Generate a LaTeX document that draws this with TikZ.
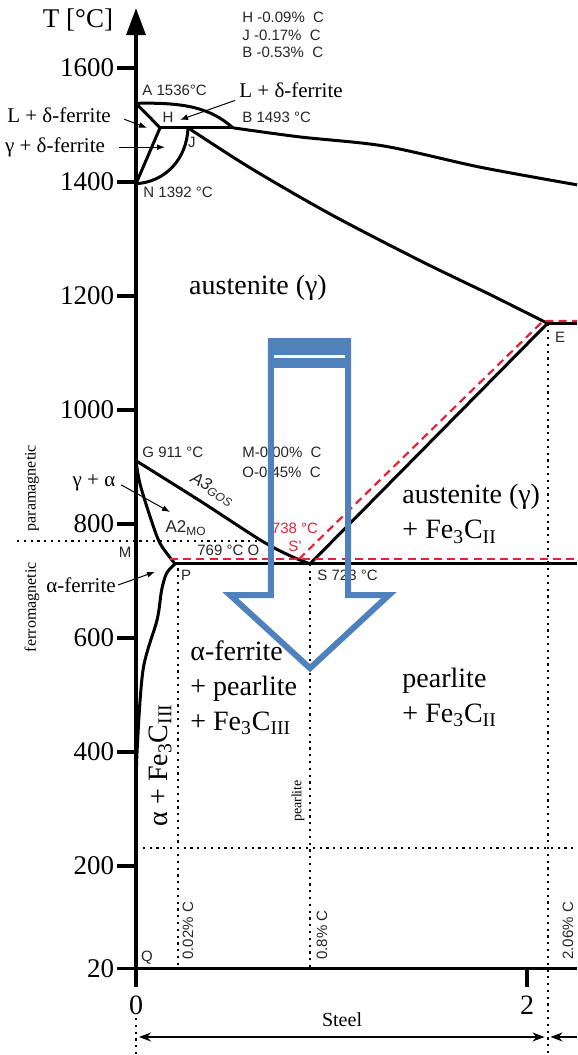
\documentclass[tikz,border=0pt]{standalone}
\usepackage{fontspec}
\setmainfont{Liberation Serif}
\setsansfont{Liberation Sans}
\usetikzlibrary{arrows.meta}
\definecolor{arrowblue}{RGB}{79,129,189}
\definecolor{eutred}{RGB}{226,35,55}
\newcommand{\fecii}{Fe\textsubscript{3}C\textsubscript{II}}
\newcommand{\feciii}{Fe\textsubscript{3}C\textsubscript{III}}

\begin{document}
\begin{tikzpicture}[x=97.75pt,y=0.285pt,>={Latex[length=4pt,width=3pt]},
  phase/.style={line width=1.5pt,line join=round},
  guide/.style={line width=1pt,dash pattern=on 1.1pt off 2.3pt},
  reddash/.style={eutred,line width=1.1pt,dash pattern=on 4pt off 2.6pt},
  region/.style={font=\fontsize{14}{17.5}\selectfont,align=left,inner sep=0pt},
  phaselab/.style={font=\fontsize{10.5}{12}\selectfont,inner sep=1pt},
  ptlab/.style={font=\sffamily\fontsize{7.5}{9}\selectfont,text=black!85,inner sep=0pt},
  ticklab/.style={font=\fontsize{13.5}{16}\selectfont,anchor=east,inner sep=0pt},
  pointer/.style={->,line width=0.5pt}]
  \useasboundingbox (-0.6957,-131.6) rectangle (2.2558,1719.3);

  % points (x in % C, y in degrees C)
  \coordinate (A) at (0,1538);
  \coordinate (H) at (0.123,1495);
  \coordinate (J) at (0.266,1495);
  \coordinate (B) at (0.496,1495);
  \coordinate (N) at (0,1397);
  \coordinate (E) at (2.105,1152);
  \coordinate (G) at (0,911);
  \coordinate (P) at (0.2,730);
  \coordinate (S) at (0.89,730);
  \coordinate (Sp) at (0.834,738.6);
  \coordinate (Ep) at (2.082,1156);
  \coordinate (O) at (0.65,771);

  % axes
  \draw[line width=1.7pt,-{Triangle[length=13.5pt,width=9.5pt]}] (0,-12.3) -- (0,1705);
  \draw[line width=1.7pt] (-0.097,20) -- (2.2558,20) (2,20) -- (2,-12.3);
  \draw[line width=1.7pt] (-0.097,1600) -- (0,1600) (-0.097,1400) -- (0,1400)
    (-0.097,1200) -- (0,1200) (-0.097,1000) -- (0,1000) (-0.097,800) -- (0,800)
    (-0.097,600) -- (0,600) (-0.097,400) -- (0,400) (-0.097,200) -- (0,200);
  \node[ticklab] (t1600) at (-0.11,1600) {1600};
  \node[ticklab] (t1400) at (-0.11,1400) {1400};
  \node[ticklab] (t1200) at (-0.11,1200) {1200};
  \node[ticklab] (t1000) at (-0.11,1000) {1000};
  \node[ticklab] (t800) at (-0.11,800) {800};
  \node[ticklab] (t600) at (-0.11,600) {600};
  \node[ticklab] (t400) at (-0.11,400) {400};
  \node[ticklab] (t200) at (-0.11,200) {200};
  \node[ticklab] (t20) at (-0.11,20) {20};
  \node[font=\fontsize{13.5}{16}\selectfont] (tlab) at (-0.2967,1684) {T [°C]};
  \node[font=\fontsize{14}{16}\selectfont] (x0) at (0,-43.9) {0};
  \node[font=\fontsize{14}{16}\selectfont] (x2) at (2,-43.9) {2};

  % dotted guides
  \draw[guide] (-0.609,771) -- (O);
  \draw[guide] (0.215,722) -- (0.215,20);
  \draw[guide] (S) -- (0.89,20);
  \draw[guide] (E) -- (2.105,-131.6);
  \draw[guide] (0,231.6) -- (2.2558,231.6);
  \draw[guide] (0,-66.7) -- (0,-131.6);

  % phase boundaries
  \draw[phase] (A) .. controls (0.25,1540) and (0.38,1530) .. (B);
  \draw[phase] plot[smooth] coordinates {(0.496,1495) (0.839,1479) (1.27,1463) (1.76,1426) (2.2558,1395)};
  \draw[phase] (A) -- (H) -- (N);
  \draw[phase] (H) -- (B);
  \draw[phase] (N) .. controls (0.15,1400) and (0.26,1440) .. (J);
  \draw[phase] plot[smooth] coordinates {(0.266,1495) (0.583,1425) (0.992,1344) (1.453,1262) (1.826,1200) (2.105,1152)};
  \draw[phase] (E) -- (2.2558,1152);
  \draw[phase] (E) -- (S);
  \draw[phase] (P) -- (2.2558,730);
  \draw[phase] plot[smooth] coordinates {(0,911) (0.33,840) (0.64,771) (0.79,744) (0.89,730)};
  \draw[phase] plot[smooth] coordinates {(0,911) (0.02,871) (0.072,813) (0.123,766) (0.2,730)};
  \draw[phase] plot[smooth] coordinates {(0.2,730) (0.157,714) (0.131,684) (0.108,632) (0.036,544) (0.005,398) (0,300)};

  % graphite lines
  \draw[reddash] (0.174,738.6) -- (2.2558,738.6);
  \draw[reddash] (Sp) -- (Ep) -- (2.2558,1156);

  % steel range
  \coordinate (st0) at (0,-100);
  \coordinate (st1) at (2.105,-100);
  \coordinate (st2) at (2.2558,-100);
  \draw[{Stealth[length=6pt,width=4.5pt]}-{Stealth[length=6pt,width=4.5pt]},line width=0.6pt,shorten <=1.5pt,shorten >=1.5pt] (st0) -- (st1);
  \draw[{Stealth[length=6pt,width=4.5pt]}-,line width=0.6pt,shorten <=1.5pt] (st1) -- (st2);
  \node[font=\fontsize{10}{12}\selectfont] (steel) at (1.054,-70) {Steel};

  % regions
  \node[region] (aus) at (0.624,1214) {austenite (γ)};
  \node[region,anchor=west] (ausfe) at (1.361,817.5) {austenite (γ)\\+ \fecii};
  \node[region,anchor=west] (afp) at (0.276,513) {α-ferrite\\+ pearlite\\+ \feciii};
  \node[region,anchor=west] (pfe) at (1.361,495.6) {pearlite\\+ \fecii};
  \node[region,rotate=90] (afe) at (0.123,377) {α + \feciii};

  % small regions with pointers
  \node[phaselab] (ldl) at (-0.394,1517.5) {L + δ-ferrite};
  \coordinate (ldlt) at (0.056,1495);
  \draw[pointer,shorten <=6pt] (ldl.east) -- (ldlt);
  \node[phaselab] (gdl) at (-0.4143,1461) {γ + δ-ferrite};
  \coordinate (gdlt) at (0.148,1461);
  \draw[pointer,shorten <=6pt] (gdl.east) -- (gdlt);
  \node[phaselab] (ldr) at (0.793,1561) {L + δ-ferrite};
  \coordinate (ldrt) at (0.225,1509);
  \draw[pointer,shorten <=1pt] (ldr.190) -- (ldrt);
  \node[phaselab] (ga) at (-0.215,872) {γ + α};
  \coordinate (gat) at (0.174,821);
  \draw[pointer,shorten <=2pt] (ga.east) -- (gat);
  \node[phaselab] (af) at (-0.281,693) {α-ferrite};
  \coordinate (aft) at (0.097,716);
  \draw[pointer] (af.east) -- (aft);

  \node[font=\fontsize{8}{10}\selectfont,rotate=90] (para) at (-0.532,863) {paramagnetic};
  \node[font=\fontsize{8}{10}\selectfont,rotate=90] (ferro) at (-0.532,654) {ferromagnetic};
  \node[font=\fontsize{7}{8}\selectfont,rotate=90] (pearl) at (0.829,314) {pearlite};

  % point labels
  \node[ptlab,anchor=west] (labA) at (0.031,1561) {A 1536°C};
  \node[ptlab] (labH) at (0.164,1514) {H};
  \node[ptlab,anchor=west] (labB) at (0.542,1514) {B 1493 °C};
  \node[ptlab] (labJ) at (0.286,1470) {J};
  \node[ptlab,anchor=west] (labN) at (0.036,1381) {N 1392 °C};
  \node[ptlab,anchor=west] (compH) at (0.542,1688) {H -0.09\%~~C};
  \node[ptlab,anchor=west] (compJ) at (0.542,1658) {J -0.17\%~~C};
  \node[ptlab,anchor=west] (compB) at (0.542,1628) {B -0.53\%~~C};
  \node[ptlab,anchor=west] (labG) at (0.031,925) {G 911 °C};
  \node[ptlab,anchor=west] (compM) at (0.542,925) {M-0.00\%~~C};
  \node[ptlab,anchor=west] (compO) at (0.542,891) {O-0.45\%~~C};
  \node[ptlab,anchor=west] (labO) at (0.312,754) {769 °C O};
  \node[ptlab] (labM) at (-0.056,751) {M};
  \node[ptlab] (labP) at (0.256,710.5) {P};
  \node[ptlab,anchor=west] (labS) at (0.926,710.5) {S 723 °C};
  \node[ptlab] (labE) at (2.169,1128) {E};
  \node[ptlab] (labQ) at (0.056,40) {Q};
  \node[ptlab,rotate=90,anchor=west] (c002) at (0.266,35) {0.02\% C};
  \node[ptlab,rotate=90,anchor=west] (c08) at (0.951,35) {0.8\% C};
  \node[ptlab,rotate=90,anchor=west] (c206) at (2.21,35) {2.06\% C};
  \node[ptlab,font=\sffamily\fontsize{8.5}{10}\selectfont] (a2) at (0.256,793) {A2\textsubscript{MO}};
  \node[ptlab,font=\sffamily\itshape\fontsize{8.5}{10}\selectfont,rotate=-30] (a3) at (0.392,861) {A3\textsubscript{GOS}};
  \node[ptlab,text=eutred] (lab738) at (0.813,793) {738 °C};
  \node[ptlab,text=eutred] (labSp) at (0.813,761.4) {S'};

  % cooling arrow
  \draw[arrowblue,line width=3pt,miter limit=10] (0.6905,1121) -- (0.6905,675.4) -- (0.481,675.4)
    -- (0.89,547) -- (1.294,675.4) -- (1.0844,675.4) -- (1.0844,1121) -- cycle;
  \fill[arrowblue] (0.675,1073.7) rectangle (1.100,1126.3);
  \draw[white,line width=1.5pt] (0.706,1094.7) -- (1.069,1094.7);
\end{tikzpicture}
\end{document}
